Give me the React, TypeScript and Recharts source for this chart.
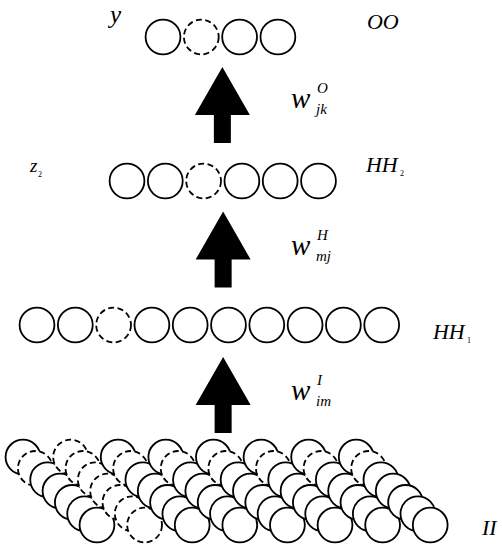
import { ScatterChart, Scatter, XAxis, YAxis } from "recharts";

// layers, top to bottom: level on the y axis, neurons on the x axis in slot units
const layerNames = ["O", "H2", "H1"];
const layerLevels = [0, 1, 2];
const layerStarts = [3.29, 2.35, 0];
const layerCounts = [4, 6, 10];
const layerDropped = [1, 2, 2];

// input layer: columns of neurons seen in depth
const inputColumns = 8;
const inputDepth = 7;
const inputDroppedColumn = 1;
const inputDroppedDepth = 1;
const inputStart = -0.366;
const inputColStep = 1.243;
const inputDepthX = 0.322;
const inputTop = 2.917;
const inputDepthY = 0.0787;

// arrows between layers
const arrowX = [4.84, 4.86, 4.86];
const arrowLevels = [0.472, 1.476, 2.486];

// labels
const labelText = ["y", "OO", "z", "HH", "HH", "w", "w", "w", "II"];
const labelSup = ["", "", "", "", "", "O", "H", "I", ""];
const labelSub = ["", "", "2", "2", "1", "jk", "mj", "im", ""];
const labelX = [1.906, 8.616, -0.183, 8.59, 10.339, 6.632, 6.632, 6.632, 11.619];
const labelY = [-0.097, -0.056, 0.9375, 0.9375, 2.097, 0.493, 1.514, 2.521, 3.458];
const labelKind = ["y", "big", "z", "big", "big", "w", "w", "w", "big"];

const X_DOMAIN: [number, number] = [-0.966, 12.141];
const Y_DOMAIN: [number, number] = [-0.2569, 3.5347];
const R = 17.4;

const neurons: { x: number; y: number; dropped: boolean }[] = [];
layerNames.forEach((_, li) => {
  for (let i = 0; i < layerCounts[li]; i++) {
    neurons.push({ x: layerStarts[li] + i, y: layerLevels[li], dropped: i === layerDropped[li] });
  }
});

const inputNeurons: { x: number; y: number; dropped: boolean }[] = [];
for (let c = 0; c < inputColumns; c++) {
  for (let d = 0; d < inputDepth; d++) {
    inputNeurons.push({
      x: inputStart + c * inputColStep + d * inputDepthX,
      y: inputTop + d * inputDepthY,
      dropped: c === inputDroppedColumn || d === inputDroppedDepth,
    });
  }
}

const arrows = arrowX.map((x, i) => ({ x, y: arrowLevels[i] }));

const labels = labelText.map((t, i) => ({
  x: labelX[i],
  y: labelY[i],
  text: t,
  sup: labelSup[i],
  sub: labelSub[i],
  kind: labelKind[i],
}));

const NeuronShape = (props: any) => {
  const { cx, cy, payload } = props;
  return (
    <circle
      cx={cx}
      cy={cy}
      r={R}
      fill="#fff"
      stroke="#000"
      strokeWidth={1.8}
      strokeDasharray={payload.dropped ? "6 3.5" : undefined}
    />
  );
};

const ArrowShape = (props: any) => {
  const { cx, cy } = props;
  const top = cy - 38;
  const neck = cy + 10;
  const bottom = cy + 38;
  const pts = [
    [cx, top],
    [cx + 27.5, neck],
    [cx + 8.5, neck],
    [cx + 8.5, bottom],
    [cx - 8.5, bottom],
    [cx - 8.5, neck],
    [cx - 27.5, neck],
  ]
    .map((p) => p.join(","))
    .join(" ");
  return <polygon points={pts} fill="#000" />;
};

const serif = { fontFamily: "Liberation Serif", fontStyle: "italic" as const };
const plain = { fontFamily: "Liberation Serif" };

const LabelShape = (props: any) => {
  const { cx, cy, payload } = props;
  const k = payload.kind;
  if (k === "w") {
    return (
      <g fill="#000">
        <text x={cx} y={cy} style={{ ...serif, fontSize: 29 }}>{payload.text}</text>
        <text x={cx + 26} y={cy - 15} style={{ ...serif, fontSize: 15 }}>{payload.sup}</text>
        <text x={cx + 25} y={cy + 6} style={{ ...serif, fontSize: 15 }}>{payload.sub}</text>
      </g>
    );
  }
  if (k === "z") {
    return (
      <g fill="#000">
        <text x={cx} y={cy} style={{ ...serif, fontSize: 19 }}>{payload.text}</text>
        <text x={cx + 8} y={cy + 5} style={{ ...plain, fontSize: 8 }}>{payload.sub}</text>
      </g>
    );
  }
  const size = k === "y" ? 25 : 22;
  const w = payload.text.length * (k === "y" ? 11 : 15.5);
  return (
    <g fill="#000">
      <text x={cx} y={cy} style={{ ...serif, fontSize: size }}>{payload.text}</text>
      {payload.sub ? (
        <text x={cx + w + 3} y={cy + 4} style={{ ...plain, fontSize: 8 }}>{payload.sub}</text>
      ) : null}
    </g>
  );
};

export default function App() {
  return (
    <div style={{ position: "absolute", left: 0, top: 0, background: "#fff" }}>
      <ScatterChart width={502} height={546} margin={{ top: 0, right: 0, bottom: 0, left: 0 }}>
        <XAxis type="number" dataKey="x" domain={X_DOMAIN} allowDataOverflow hide />
        <YAxis type="number" dataKey="y" domain={Y_DOMAIN} allowDataOverflow reversed hide />
        <Scatter data={arrows} shape={ArrowShape} isAnimationActive={false} />
        <Scatter data={neurons} shape={NeuronShape} isAnimationActive={false} />
        <Scatter data={inputNeurons} shape={NeuronShape} isAnimationActive={false} />
        <Scatter data={labels} shape={LabelShape} isAnimationActive={false} />
      </ScatterChart>
    </div>
  );
}
